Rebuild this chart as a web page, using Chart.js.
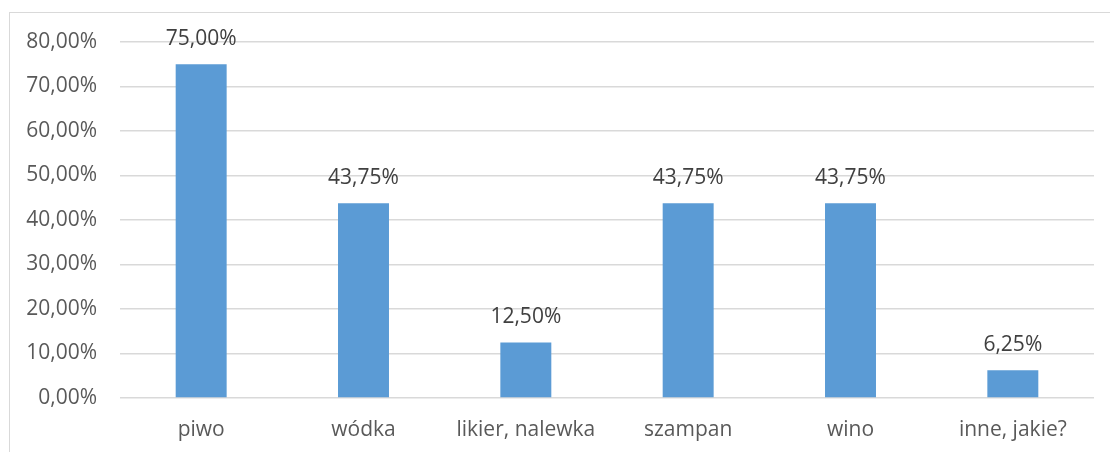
<!DOCTYPE html>
<html>
<head>
<meta charset="utf-8">
<script src="https://cdn.jsdelivr.net/npm/chart.js@4/dist/chart.umd.min.js"></script>
<style>
  body { margin: 0; background: #fff; }
  #wrap { position: relative; width: 1110px; height: 452px; }
  #frame {
    position: absolute; left: 9px; top: 12px; right: 0; bottom: 0;
    border-left: 1.5px solid #d9d9d9; border-top: 1.5px solid #d9d9d9;
  }
  canvas { position: absolute; left: 0; top: 0; }
</style>
</head>
<body>
<div id="wrap">
  <div id="frame"></div>
  <canvas id="myChart" width="1110" height="452"></canvas>
</div>
<script>
const kategorie = ["piwo", "wódka", "likier, nalewka", "szampan", "wino", "inne, jakie?"];
const wartosci = [75.0, 43.75, 12.5, 43.75, 43.75, 6.25];
const osY = [0, 10, 20, 30, 40, 50, 60, 70, 80];

const procent = (v) => v.toFixed(2).replace(".", ",") + "%";

/*Etykiety nad slupkami*/
const etykiety = {
  id: "etykiety",
  afterDatasetsDraw(chart) {
    const ctx = chart.ctx;
    ctx.save();
    ctx.font = "21px 'Open Sans'";
    ctx.fillStyle = "#404040";
    ctx.textAlign = "center";
    ctx.textBaseline = "middle";
    chart.getDatasetMeta(0).data.forEach((bar, i) => {
      ctx.fillText(procent(wartosci[i]), bar.x, bar.y - 25);
    });
    ctx.restore();
  },
};

const ctx = document.getElementById("myChart").getContext("2d");
const wykres = new Chart(ctx, {
  type: "bar",
  data: {
    labels: kategorie,
    datasets: [
      {
        data: wartosci,
        backgroundColor: "#5B9BD5",
        categoryPercentage: 1,
        barPercentage: 0.314,
      },
    ],
  },
  options: {
    responsive: false,
    animation: false,
    layout: { padding: { top: 42, right: 16, left: 0, bottom: 0 } },
    plugins: { legend: { display: false }, tooltip: { enabled: false } },
    scales: {
      y: {
        min: 0,
        max: 80,
        afterBuildTicks: (axis) => {
          axis.ticks = osY.map((v) => ({ value: v }));
        },
        afterFit: (axis) => {
          axis.width = 120;
        },
        border: { display: false },
        grid: { color: "#d9d9d9", lineWidth: 1.5, drawTicks: false },
        ticks: {
          padding: 23,
          color: "#595959",
          font: { family: "Open Sans", size: 21 },
          callback: (v) => procent(v),
        },
      },
      x: {
        afterFit: (axis) => {
          axis.height = 54;
        },
        border: { display: false },
        grid: { display: false, drawTicks: false },
        ticks: {
          padding: 19,
          color: "#595959",
          maxRotation: 0,
          font: { family: "Open Sans", size: 21 },
        },
      },
    },
  },
  plugins: [etykiety],
});
</script>
</body>
</html>
